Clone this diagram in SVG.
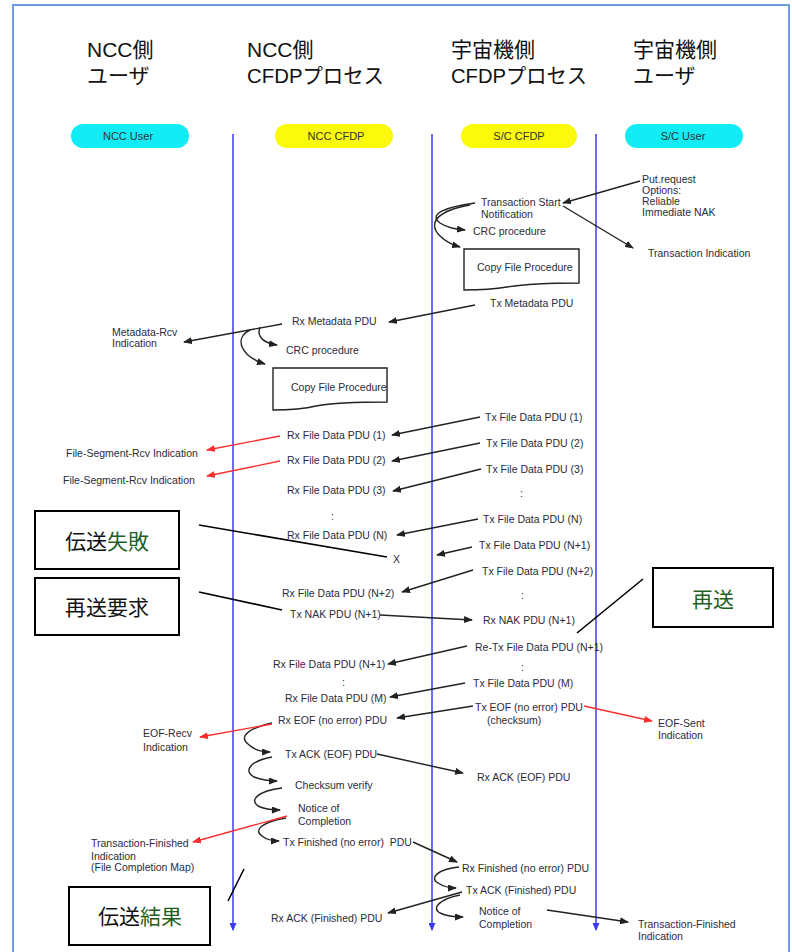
<svg xmlns="http://www.w3.org/2000/svg" width="792" height="952" viewBox="0 0 792 952">
<style>
.hd{font-family:"Liberation Sans","Noto Sans CJK JP",sans-serif;font-size:21px;fill:#111}
.pl{font-family:"Liberation Sans",Arial,sans-serif;font-size:11px;fill:#333;text-anchor:middle}
.t{font-family:"Liberation Sans",Arial,sans-serif;font-size:10.5px;fill:#2b2b3b}
.bx{font-family:"Liberation Sans","Noto Sans CJK JP",sans-serif;font-size:21px;fill:#111;text-anchor:middle}
.g{fill:#1f5f1f}
.life{stroke:#3a3af5;stroke-width:1.5;fill:none}
.ar{stroke:#222;stroke-width:1.4;fill:none;marker-end:url(#ah)}
.rd{stroke:#ff2e2e;stroke-width:1.4;fill:none;marker-end:url(#ahr)}
.co{stroke:#000;stroke-width:1.6;fill:none}
.box{fill:#fff;stroke:#000;stroke-width:2}
.doc{fill:#fff;stroke:#222;stroke-width:1.4}
</style>
<defs>
<marker id="ah" markerWidth="9" markerHeight="7" refX="8" refY="3.5" orient="auto" markerUnits="userSpaceOnUse"><path d="M0,0 L9,3.5 L0,7 Z" fill="#222"/></marker>
<marker id="ahr" markerWidth="9" markerHeight="7" refX="8" refY="3.5" orient="auto" markerUnits="userSpaceOnUse"><path d="M0,0 L9,3.5 L0,7 Z" fill="#ff2e2e"/></marker>
<marker id="ahb" markerWidth="8" markerHeight="7" refX="7" refY="3.5" orient="auto" markerUnits="userSpaceOnUse"><path d="M0,0 L8,3.5 L0,7 Z" fill="#3a3af5"/></marker>
</defs>
<rect x="13" y="5" width="776" height="960" fill="#fff" stroke="#6c9ed9" stroke-width="2"/>

<g id="ncc-user">
<text class="hd" x="87" y="57">NCC側</text>
<text class="hd" x="87" y="83">ユーザ</text>
<rect x="71" y="124" width="118" height="24" rx="12" fill="#12ecf4"/>
<text class="pl" x="128" y="140">NCC User</text>
</g>
<g id="ncc-cfdp">
<text class="hd" x="247" y="57">NCC側</text>
<text class="hd" x="247" y="83" textLength="137" lengthAdjust="spacingAndGlyphs">CFDPプロセス</text>
<rect x="275" y="124" width="118" height="24" rx="12" fill="#fafa0a"/>
<text class="pl" x="336" y="140">NCC CFDP</text>
</g>
<g id="sc-cfdp">
<text class="hd" x="451" y="57">宇宙機側</text>
<text class="hd" x="451" y="83" textLength="136" lengthAdjust="spacingAndGlyphs">CFDPプロセス</text>
<rect x="461" y="124" width="116" height="24" rx="12" fill="#fafa0a"/>
<text class="pl" x="519" y="140">S/C CFDP</text>
</g>
<g id="sc-user">
<text class="hd" x="633" y="57">宇宙機側</text>
<text class="hd" x="633" y="83">ユーザ</text>
<rect x="625" y="124" width="118" height="24" rx="12" fill="#12ecf4"/>
<text class="pl" x="683" y="140">S/C User</text>
</g>

<g id="lifelines">
<line class="life" x1="233" y1="134" x2="233" y2="930" marker-end="url(#ahb)"/>
<line class="life" x1="432" y1="134" x2="432" y2="930" marker-end="url(#ahb)"/>
<line class="life" x1="596" y1="134" x2="596" y2="930" marker-end="url(#ahb)"/>
</g>

<g id="copy-file-sc">
<path class="doc" d="M464,249 L579,249 L579,283 C545,283 525,284 507,287 C490,290 478,290 464,290 Z"/>
<text class="t" x="477" y="271">Copy File Procedure</text>
</g>
<g id="copy-file-ncc">
<path class="doc" d="M273,368 L387,368 L387,402 C352,402 332,403 316,406 C300,410 286,410 273,410 Z"/>
<text class="t" x="291" y="391">Copy File Procedure</text>
</g>

<g id="box-fail">
<rect class="box" x="35" y="511" width="144" height="58"/>
<text class="bx" x="107" y="549">伝送<tspan class="g">失敗</tspan></text>
</g>
<g id="box-nak">
<rect class="box" x="35" y="578" width="144" height="57"/>
<text class="bx" x="107" y="615">再送要求</text>
</g>
<g id="box-resend">
<rect class="box" x="653" y="568" width="120" height="59"/>
<text class="bx g" x="713" y="607">再送</text>
</g>
<g id="box-result">
<rect class="box" x="69" y="887" width="141" height="58"/>
<text class="bx" x="140" y="924">伝送<tspan class="g">結果</tspan></text>
</g>

<g id="labels">
<text class="t" x="642" y="183">Put.request</text>
<text class="t" x="642" y="194">Options:</text>
<text class="t" x="642" y="205">Reliable</text>
<text class="t" x="642" y="216">Immediate NAK</text>
<text class="t" x="481" y="206">Transaction Start</text>
<text class="t" x="481" y="218">Notification</text>
<text class="t" x="473" y="235">CRC procedure</text>
<text class="t" x="648" y="257">Transaction Indication</text>
<text class="t" x="490" y="307">Tx Metadata PDU</text>
<text class="t" x="292" y="325">Rx Metadata PDU</text>
<text class="t" x="112" y="336">Metadata-Rcv</text>
<text class="t" x="112" y="347">Indication</text>
<text class="t" x="286" y="354">CRC procedure</text>
<text class="t" x="485" y="421">Tx File Data PDU (1)</text>
<text class="t" x="486" y="447">Tx File Data PDU (2)</text>
<text class="t" x="486" y="473">Tx File Data PDU (3)</text>
<text class="t" x="520" y="497">:</text>
<text class="t" x="483" y="523">Tx File Data PDU (N)</text>
<text class="t" x="479" y="549">Tx File Data PDU (N+1)</text>
<text class="t" x="482" y="575">Tx File Data PDU (N+2)</text>
<text class="t" x="521" y="599">:</text>
<text class="t" x="287" y="439">Rx File Data PDU (1)</text>
<text class="t" x="287" y="464">Rx File Data PDU (2)</text>
<text class="t" x="287" y="494">Rx File Data PDU (3)</text>
<text class="t" x="331" y="520">:</text>
<text class="t" x="287" y="539">Rx File Data PDU (N)</text>
<text class="t" x="393" y="563">X</text>
<text class="t" x="282" y="597">Rx File Data PDU (N+2)</text>
<text class="t" x="66" y="457">File-Segment-Rcv Indication</text>
<text class="t" x="63" y="484">File-Segment-Rcv Indication</text>
<text class="t" x="290" y="618">Tx NAK PDU (N+1)</text>
<text class="t" x="483" y="624">Rx NAK PDU (N+1)</text>
<text class="t" x="475" y="651">Re-Tx File Data PDU (N+1)</text>
<text class="t" x="521" y="671">:</text>
<text class="t" x="473" y="687">Tx File Data PDU (M)</text>
<text class="t" x="273" y="668">Rx File Data PDU (N+1)</text>
<text class="t" x="342" y="686">:</text>
<text class="t" x="285" y="702">Rx File Data PDU (M)</text>
<text class="t" x="278" y="724">Rx EOF (no error) PDU</text>
<text class="t" x="475" y="711">Tx EOF (no error) PDU</text>
<text class="t" x="487" y="724">(checksum)</text>
<text class="t" x="143" y="737">EOF-Recv</text>
<text class="t" x="143" y="751">Indication</text>
<text class="t" x="658" y="727">EOF-Sent</text>
<text class="t" x="658" y="739">Indication</text>
<text class="t" x="285" y="758">Tx ACK (EOF) PDU</text>
<text class="t" x="477" y="781">Rx ACK (EOF) PDU</text>
<text class="t" x="295" y="789">Checksum verify</text>
<text class="t" x="298" y="812">Notice of</text>
<text class="t" x="298" y="825">Completion</text>
<text class="t" x="91" y="847">Transaction-Finished</text>
<text class="t" x="91" y="860">Indication</text>
<text class="t" x="91" y="871">(File Completion Map)</text>
<text class="t" x="283" y="846" xml:space="preserve">Tx Finished (no error)  PDU</text>
<text class="t" x="462" y="872">Rx Finished (no error) PDU</text>
<text class="t" x="466" y="894">Tx ACK (Finished) PDU</text>
<text class="t" x="271" y="922">Rx ACK (Finished) PDU</text>
<text class="t" x="479" y="915">Notice of</text>
<text class="t" x="479" y="928">Completion</text>
<text class="t" x="638" y="928">Transaction-Finished</text>
<text class="t" x="638" y="940">Indication</text>
</g>

<g id="connectors">
<path class="ar" d="M640,181 L563,203"/>
<path class="ar" d="M563,206 L633,248"/>
<path class="ar" d="M475,203 C445,207 428,214 440,223 C447,228 456,229 465,230"/>
<path class="ar" d="M470,205 C440,210 426,222 440,236 C446,242 453,245 460,247"/>
<path class="ar" d="M475,305 L389,322"/>
<path class="ar" d="M282,324 L184,342"/>
<path class="ar" d="M260,327 C256,338 265,343 277,345"/>
<path class="ar" d="M250,330 C234,338 240,356 265,364"/>
<path class="ar" d="M480,417 L392,435"/>
<path class="ar" d="M480,443 L392,461"/>
<path class="ar" d="M481,469 L393,491"/>
<path class="ar" d="M478,519 L397,535"/>
<path class="ar" d="M472,547 L437,555"/>
<path class="ar" d="M473,570 L402,592"/>
<path class="ar" d="M380,615 L472,620"/>
<path class="ar" d="M467,646 L388,664"/>
<path class="ar" d="M465,683 L390,697"/>
<path class="ar" d="M473,706 L397,718"/>
<path class="ar" d="M272,723 C250,728 238,736 248,744 C254,750 262,752 270,752"/>
<path class="ar" d="M377,754 L463,773"/>
<path class="ar" d="M272,757 C250,761 243,771 254,777 C262,780 270,781 277,781"/>
<path class="ar" d="M282,788 C258,791 249,800 258,806 C264,809 272,810 280,810"/>
<path class="ar" d="M286,818 C262,822 253,830 262,836 C267,840 273,841 279,841"/>
<path class="ar" d="M413,842 L457,862"/>
<path class="ar" d="M459,867 C438,869 429,878 438,883 C444,887 450,888 456,888"/>
<path class="ar" d="M462,892 L388,913"/>
<path class="ar" d="M460,895 C440,899 431,908 440,913 C446,916 455,917 463,917"/>
<path class="ar" d="M547,910 L628,922"/>
<path class="rd" d="M280,436 L207,450"/>
<path class="rd" d="M280,461 L207,476"/>
<path class="rd" d="M272,724 L200,737"/>
<path class="rd" d="M584,706 L652,721"/>
<path class="rd" d="M287,816 L193,842"/>
<path class="co" d="M199,525 L387,557"/>
<path class="co" d="M199,592 L282,610"/>
<path class="co" d="M577,633 L643,579"/>
<path class="co" d="M228,901 L244,869"/>
</g>
</svg>
